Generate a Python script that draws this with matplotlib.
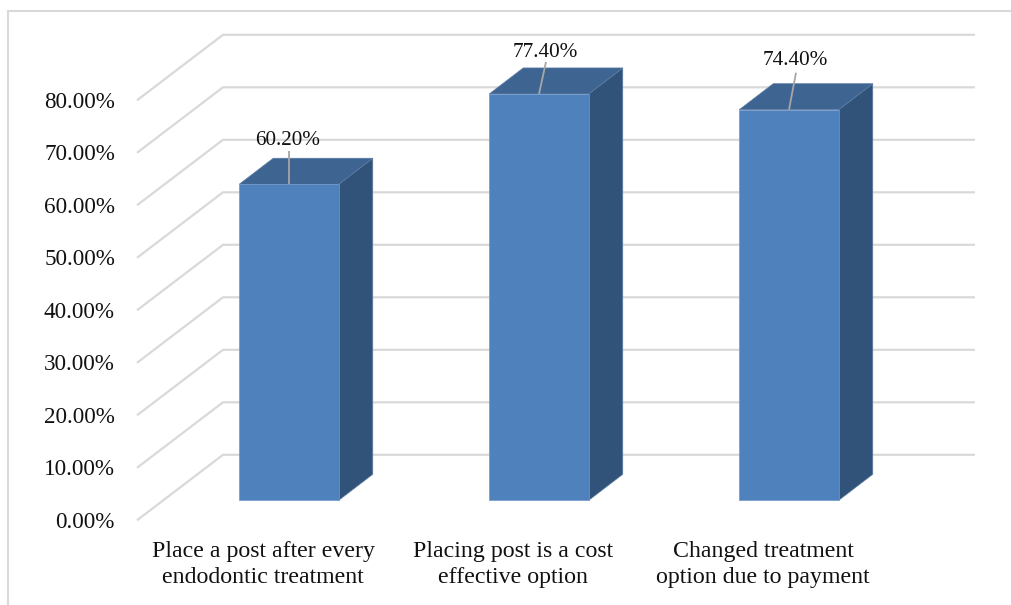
import matplotlib
matplotlib.use("Agg")
import matplotlib.pyplot as plt
from matplotlib.patches import Polygon

# ----------- DATA -----------
categories = ["Place a post after every\nendodontic treatment",
              "Placing post is a cost\neffective option",
              "Changed treatment\noption due to payment"]
values = [60.2, 77.4, 74.4]
bar_labels = ["60.20%", "77.40%", "74.40%"]
axis_values = [0, 10, 20, 30, 40, 50, 60, 70, 80]
axis_labels = ["0.00%", "10.00%", "20.00%", "30.00%", "40.00%",
               "50.00%", "60.00%", "70.00%", "80.00%"]

# ----------- CONFIG -----------
W, H = 1011, 605
PX_PER_CAT = 250.0      # distance between bars
PX_PER_PCT = 5.25       # height of one percent
X0 = 289.0              # centre of first bar
Y0 = 500.3              # bar base line
BAR_W = 99.5 / PX_PER_CAT

GRID = "#D9D9D9"
FRONT = "#4F81BD"
TOP = "#3E6591"
SIDE = "#325379"
LEADER = "#A6A6A6"
TEXT = "#111111"

plt.rcParams["font.family"] = ["Liberation Serif", "DejaVu Serif"]

fig = plt.figure(figsize=(W / 100, H / 100), dpi=100)
ax = fig.add_axes([0, 0, 1, 1])
ax.set_xlim(-X0 / PX_PER_CAT, (W - X0) / PX_PER_CAT)
ax.set_ylim((Y0 - H) / PX_PER_PCT, Y0 / PX_PER_PCT)
ax.axis("off")


def dx(px):
    return px / PX_PER_CAT


def dy(px):
    return px / PX_PER_PCT


# outer border, only left and top are visible
top_y = dy(Y0 - 11)
left_x = dx(8 - X0)
ax.plot([left_x, left_x, dx(W - X0)], [dy(Y0 - H), top_y, top_y],
        color=GRID, lw=1.5, zorder=1, solid_joinstyle="miter")

# gridlines: diagonal floor part then along the back wall
for v, lab in zip(axis_values, axis_labels):
    y_front = v + dy(-20)
    y_back = v + dy(45.5)
    xs = [dx(137 - X0), dx(223 - X0), dx(975 - X0)]
    ax.plot(xs, [y_front, y_back, y_back], color=GRID, lw=1.6, zorder=1,
            solid_capstyle="butt", solid_joinstyle="miter")
    ax.text(dx(115 - X0), y_front - dy(2.0), lab, ha="right", va="center",
            fontsize=16.7, color=TEXT, zorder=5)

# 3D bars
depth_x = dx(34)
depth_y = dy(26)
label_off = [(-1, 44), (6, 41), (6, 49)]
leader_off = [(0, 33), (7, 32), (7, 37)]
for i, (v, txt) in enumerate(zip(values, bar_labels)):
    x1 = i - BAR_W / 2
    x2 = i + BAR_W / 2
    side = [(x2, 0), (x2 + depth_x, depth_y), (x2 + depth_x, v + depth_y), (x2, v)]
    top = [(x1, v), (x1 + depth_x, v + depth_y), (x2 + depth_x, v + depth_y), (x2, v)]
    ax.add_patch(Polygon(side, closed=True, fc=SIDE, ec="#5A7BA3", lw=0.5, zorder=2))
    ax.add_patch(Polygon(top, closed=True, fc=TOP, ec="#5A7BA3", lw=0.5, zorder=2))
    ax.bar(i, v, width=BAR_W, color=FRONT, edgecolor="#6F97C8", linewidth=0.5, zorder=3)

    lx, ly = leader_off[i]
    ax.plot([i, i + dx(lx)], [v, v + dy(ly)], color=LEADER, lw=1.3, zorder=4,
            solid_capstyle="butt")
    tx, ty = label_off[i]
    ax.text(i + dx(tx), v + dy(ty), txt, ha="center", va="center",
            fontsize=15.3, color=TEXT, zorder=5)

# category labels under the bars
for i, cat in enumerate(categories):
    ax.text(i - dx(26), dy(Y0 - 564.5), cat, ha="center", va="center",
            fontsize=17.2, color=TEXT, linespacing=1.31, zorder=5)

fig.savefig("out.png", dpi=100)
